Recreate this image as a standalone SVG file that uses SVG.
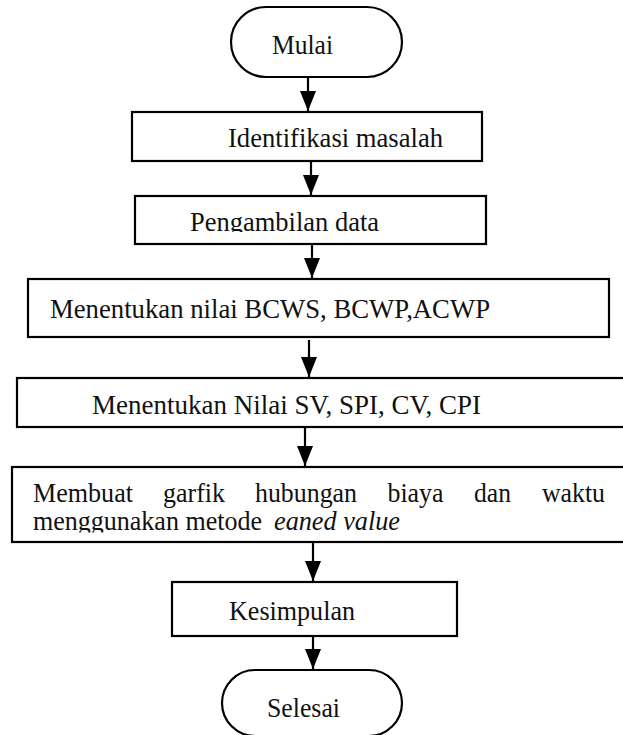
<svg xmlns="http://www.w3.org/2000/svg" width="623" height="735" viewBox="0 0 623 735" font-family="Liberation Serif, Times New Roman, serif">
<style>
.box{fill:#fff;stroke:#000;stroke-width:2.2}
.t{font-family:'Liberation Serif','Times New Roman',serif;font-size:27.5px;fill:#111}
.c{stroke:#000;stroke-width:2.2;fill:none}
</style>
<defs>
<marker id="ah" markerUnits="userSpaceOnUse" markerWidth="20" markerHeight="16" refX="20" refY="8" orient="auto">
<path d="M0,0 L20,8 L0,16 Z" fill="#000"/>
</marker>
<clipPath id="clipP"><rect x="130" y="190" width="360" height="42"/></clipPath>
<clipPath id="clipM"><rect x="10" y="460" width="613" height="72.5"/></clipPath>
</defs>
<rect width="623" height="735" fill="#fff"/>
<g id="connectors">
<line class="c" x1="308" y1="77" x2="308" y2="111" marker-end="url(#ah)"/>
<line class="c" x1="311" y1="161" x2="311" y2="195" marker-end="url(#ah)"/>
<line class="c" x1="312" y1="244" x2="312" y2="278" marker-end="url(#ah)"/>
<line class="c" x1="309" y1="340" x2="309" y2="377" marker-end="url(#ah)"/>
<line class="c" x1="305" y1="428" x2="305" y2="466" marker-end="url(#ah)"/>
<line class="c" x1="313" y1="542" x2="313" y2="581" marker-end="url(#ah)"/>
<line class="c" x1="313" y1="637" x2="313" y2="669" marker-end="url(#ah)"/>
</g>
<g id="mulai">
<rect class="box" x="231" y="7" width="171" height="70" rx="35" ry="35"/>
<text class="t" x="272" y="54" textLength="61" lengthAdjust="spacingAndGlyphs">Mulai</text>
</g>
<g id="identifikasi">
<rect class="box" x="132" y="112" width="350" height="49"/>
<text class="t" x="228" y="147" textLength="215" lengthAdjust="spacingAndGlyphs">Identifikasi masalah</text>
</g>
<g id="pengambilan">
<rect class="box" x="135" y="196" width="351" height="48"/>
<text class="t" x="190" y="231" textLength="189" lengthAdjust="spacingAndGlyphs" clip-path="url(#clipP)">Pengambilan data</text>
</g>
<g id="bcws">
<rect class="box" x="28" y="279" width="581" height="58"/>
<text class="t" x="50" y="318" textLength="440" lengthAdjust="spacingAndGlyphs">Menentukan nilai BCWS, BCWP,ACWP</text>
</g>
<g id="sv">
<rect class="box" x="17" y="378" width="620" height="49"/>
<text class="t" x="92" y="414" textLength="389" lengthAdjust="spacingAndGlyphs">Menentukan Nilai SV, SPI, CV, CPI</text>
</g>
<g id="membuat">
<rect class="box" x="12" y="467" width="620" height="75"/>
<text class="t" x="33" y="502" textLength="100" lengthAdjust="spacingAndGlyphs">Membuat</text>
<text class="t" x="163" y="502" textLength="62" lengthAdjust="spacingAndGlyphs">garfik</text>
<text class="t" x="255" y="502" textLength="102" lengthAdjust="spacingAndGlyphs">hubungan</text>
<text class="t" x="387.5" y="502" textLength="56" lengthAdjust="spacingAndGlyphs">biaya</text>
<text class="t" x="474" y="502" textLength="37" lengthAdjust="spacingAndGlyphs">dan</text>
<text class="t" x="542" y="502" textLength="63" lengthAdjust="spacingAndGlyphs">waktu</text>
<g clip-path="url(#clipM)">
<text class="t" x="33" y="530" textLength="229" lengthAdjust="spacingAndGlyphs">menggunakan metode</text>
<text class="t" x="274" y="530" textLength="126" lengthAdjust="spacingAndGlyphs" font-style="italic">eaned value</text>
</g>
</g>
<g id="kesimpulan">
<rect class="box" x="172" y="582" width="285" height="54"/>
<text class="t" x="229" y="620" textLength="126" lengthAdjust="spacingAndGlyphs">Kesimpulan</text>
</g>
<g id="selesai">
<rect class="box" x="222" y="670" width="180" height="66" rx="33" ry="33"/>
<text class="t" x="267" y="717" textLength="73" lengthAdjust="spacingAndGlyphs">Selesai</text>
</g>
</svg>
